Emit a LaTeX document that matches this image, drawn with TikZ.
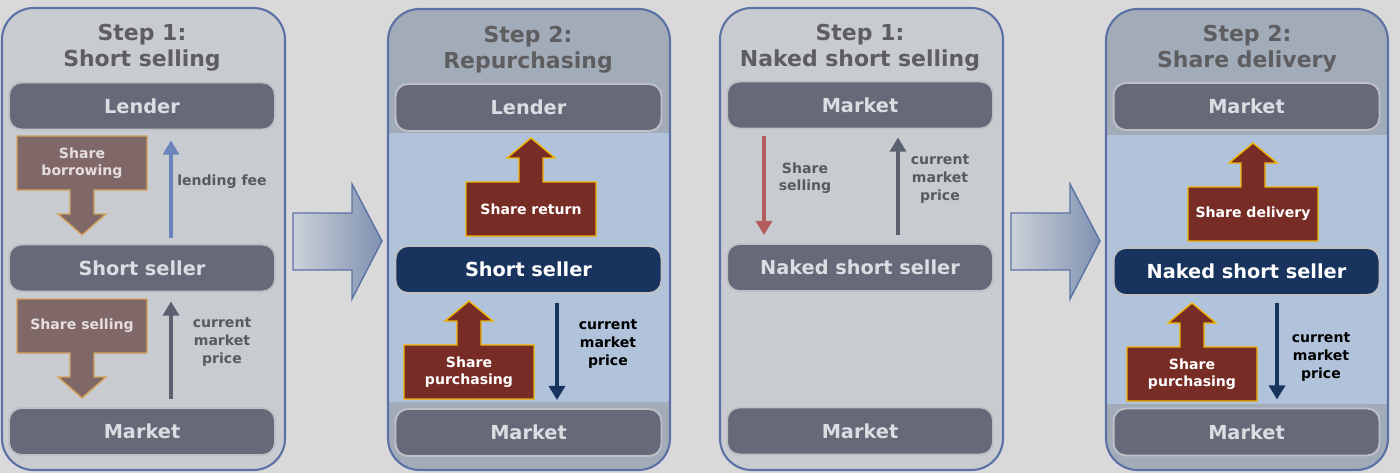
\documentclass[tikz,border=0pt]{standalone}
\usepackage{fontspec}
\setmainfont{DejaVu Sans}
\usepackage{tikz}
\usetikzlibrary{arrows.meta, positioning, calc}
\definecolor{bgray}{RGB}{217,217,217}
\definecolor{panellight}{RGB}{200,203,207}
\definecolor{paneldark}{RGB}{162,171,184}
\definecolor{panelband}{RGB}{176,195,219}
\definecolor{panelrim}{RGB}{92,114,166}
\definecolor{boxgray}{RGB}{102,106,120}
\definecolor{boxrim}{RGB}{190,192,197}
\definecolor{boxnavy}{RGB}{23,51,94}
\definecolor{txtlight}{RGB}{220,221,226}
\definecolor{titlegray}{RGB}{94,94,96}
\definecolor{labelgray}{RGB}{88,90,96}
\definecolor{mutedbrown}{RGB}{128,104,104}
\definecolor{mutedrim}{RGB}{214,163,92}
\definecolor{mutedtxt}{RGB}{230,222,222}
\definecolor{deepred}{RGB}{120,44,38}
\definecolor{goldrim}{RGB}{240,180,0}
\definecolor{feeblue}{RGB}{106,133,187}
\definecolor{pricegray}{RGB}{90,96,112}
\definecolor{sellred}{RGB}{178,92,94}
\definecolor{shadeleft}{RGB}{204,209,217}
\definecolor{shaderight}{RGB}{128,146,176}
\tikzset{
  panel/.style={draw=panelrim, line width=1.2pt, rounded corners=18pt},
  party/.style={rectangle, draw=boxrim, fill=boxgray, text=txtlight,
    minimum width=5.32cm, minimum height=0.94cm, rounded corners=7pt,
    line width=1.1pt, font=\fontsize{11}{13}\selectfont\bfseries},
  keyparty/.style={party, fill=boxnavy, text=white},
  steptitle/.style={align=center, text=titlegray,
    font=\fontsize{12.5}{14.8}\selectfont\bfseries},
  flowlabel/.style={align=center, text=labelgray,
    font=\fontsize{8}{10}\selectfont\bfseries},
  blocktext/.style={align=center, font=\fontsize{8}{10}\selectfont\bfseries},
  mutedblock/.style={fill=mutedbrown, draw=mutedrim, line width=0.8pt},
  redblock/.style={fill=deepred, draw=goldrim, line width=0.8pt},
  thinarrow/.style={-{Triangle[length=8pt,width=9pt]}, line width=2pt},
  bigarrow/.style={draw=panelrim, left color=shadeleft, right color=shaderight,
    line width=0.8pt}
}
% block arrows: box with an arrow on top / below (x centre, box top)
\newcommand{\blockup}[3]{%
  \draw[#3] (#1-65,#2+54) -- (#1-65,#2) -- (#1-12,#2) -- (#1-12,#2-24)
    -- (#1-24,#2-24) -- (#1,#2-44) -- (#1+24,#2-24) -- (#1+12,#2-24)
    -- (#1+12,#2) -- (#1+65,#2) -- (#1+65,#2+54) -- cycle;}
\newcommand{\blockdown}[3]{%
  \draw[#3] (#1-65,#2) -- (#1+65,#2) -- (#1+65,#2+54) -- (#1+12,#2+54)
    -- (#1+12,#2+78) -- (#1+24,#2+78) -- (#1,#2+99) -- (#1-24,#2+78)
    -- (#1-12,#2+78) -- (#1-12,#2+54) -- (#1-65,#2+54) -- cycle;}

\begin{document}
\begin{tikzpicture}[x=0.02cm, y=-0.02cm]
  \fill[bgray] (0,0) rectangle (1400,473);
  \useasboundingbox (0,0) rectangle (1400,473);

  % Step 1: short selling
  \draw[panel, fill=panellight] (2,8) rectangle (285,470);
  \node[steptitle] (title1) at (142,48) {Step 1:\\Short selling};
  \node[party] (lender1) at (142,106) {Lender};
  \node[party] (seller1) at (142,268) {Short seller};
  \node[party] (market1) at (142,431.5) {Market};
  \blockdown{82}{136}{mutedblock}
  \node[blocktext, text=mutedtxt] (borrow1) at (82,163) {Share\\borrowing};
  \blockdown{82}{299}{mutedblock}
  \node[blocktext, text=mutedtxt] (sell1) at (82,326) {Share selling};
  \draw[thinarrow, feeblue] ([xshift=0.58cm, yshift=0.12cm]seller1.north)
    -- ([xshift=0.58cm, yshift=-0.2cm]lender1.south);
  \node[flowlabel] (fee1) at (222,182) {lending fee};
  \draw[thinarrow, pricegray] ([xshift=0.58cm, yshift=0.16cm]market1.north)
    -- ([xshift=0.58cm, yshift=-0.18cm]seller1.south);
  \node[flowlabel] (price1) at (222,342) {current\\market\\price};

  \draw[bigarrow] (293,213) -- (352,213) -- (352,184) -- (382,241)
    -- (352,299) -- (352,270) -- (293,270) -- cycle;

  % Step 2: repurchasing
  \fill[paneldark, rounded corners=18pt] (388,9) rectangle (670,470);
  \fill[panelband] (389,133) rectangle (669,402);
  \draw[panel] (388,9) rectangle (670,470);
  \node[steptitle] (title2) at (528,50) {Step 2:\\Repurchasing};
  \node[party] (lender2) at (528.5,107.5) {Lender};
  \node[keyparty] (seller2) at (528.5,269.5) {Short seller};
  \node[party] (market2) at (528.5,432.5) {Market};
  \blockup{531}{182}{redblock}
  \node[blocktext, text=white] (return2) at (531,209) {Share return};
  \blockup{469}{345}{redblock}
  \node[blocktext, text=white] (buy2) at (469,372) {Share\\purchasing};
  \draw[thinarrow, boxnavy] ([xshift=0.57cm, yshift=-0.18cm]seller2.south)
    -- ([xshift=0.57cm, yshift=0.16cm]market2.north);
  \node[flowlabel, text=black] (price2) at (608,344) {current\\market\\price};

  % Step 1: naked short selling
  \draw[panel, fill=panellight] (720,8) rectangle (1003,470);
  \node[steptitle] (title3) at (860,48) {Step 1:\\Naked short selling};
  \node[party] (market3) at (860,105) {Market};
  \node[party] (naked3) at (860,267.5) {Naked short seller};
  \node[party] (bottom3) at (860,431) {Market};
  \draw[thinarrow, sellred] ([xshift=-1.92cm, yshift=-0.14cm]market3.south)
    -- ([xshift=-1.92cm, yshift=0.16cm]naked3.north);
  \node[flowlabel] (sell3) at (805,178) {Share\\selling};
  \draw[thinarrow, pricegray] ([xshift=0.76cm, yshift=0.16cm]naked3.north)
    -- ([xshift=0.76cm, yshift=-0.16cm]market3.south);
  \node[flowlabel] (price3) at (940,179) {current\\market\\price};

  \draw[bigarrow] (1011,213) -- (1070,213) -- (1070,184) -- (1100,241)
    -- (1070,299) -- (1070,270) -- (1011,270) -- cycle;

  % Step 2: share delivery
  \fill[paneldark, rounded corners=18pt] (1106,9) rectangle (1388,470);
  \fill[panelband] (1107,135) rectangle (1387,404);
  \draw[panel] (1106,9) rectangle (1388,470);
  \node[steptitle] (title4) at (1247,49) {Step 2:\\Share delivery};
  \node[party] (market4) at (1246.5,106.5) {Market};
  \node[keyparty] (naked4) at (1246.5,271.5) {Naked short seller};
  \node[party] (bottom4) at (1246.5,432) {Market};
  \blockup{1253}{187}{redblock}
  \node[blocktext, text=white] (deliver4) at (1253,214) {Share delivery};
  \blockup{1192}{347}{redblock}
  \node[blocktext, text=white] (buy4) at (1192,374) {Share\\purchasing};
  \draw[thinarrow, boxnavy] ([xshift=0.61cm, yshift=-0.14cm]naked4.south)
    -- ([xshift=0.61cm, yshift=0.16cm]bottom4.north);
  \node[flowlabel, text=black] (price4) at (1321,357) {current\\market\\price};
\end{tikzpicture}
\end{document}
